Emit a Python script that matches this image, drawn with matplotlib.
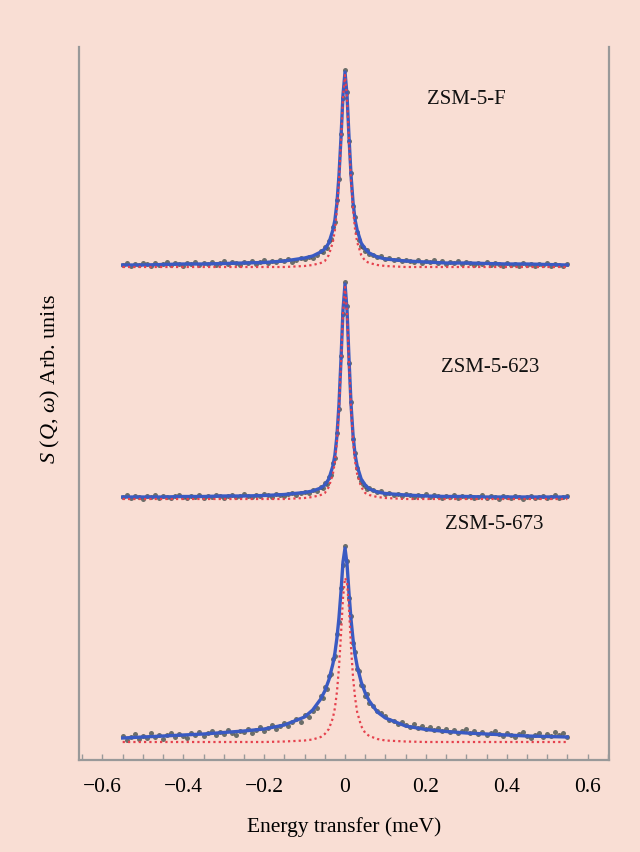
import numpy as np
import matplotlib
matplotlib.use("Agg")
import matplotlib.pyplot as plt
from matplotlib.ticker import MultipleLocator

plt.rcParams['font.family'] = ['Liberation Serif', 'DejaVu Serif']
plt.rcParams['mathtext.fontset'] = 'custom'
plt.rcParams['mathtext.rm'] = 'Liberation Serif'
plt.rcParams['mathtext.it'] = 'Liberation Serif:italic'

BG = '#f9ded4'

# Fit curves: energy grid (meV) and stacked intensities (arb. units, offset per sample)
fit_x = [-0.55, -0.5, -0.45, -0.4, -0.35, -0.3, -0.25, -0.2, -0.15, -0.1, -0.08,
         -0.06, -0.05, -0.04, -0.03, -0.025, -0.02, -0.015, -0.01, -0.005, 0.0,
         0.005, 0.01, 0.015, 0.02, 0.025, 0.03, 0.04, 0.05, 0.06, 0.08, 0.1,
         0.15, 0.2, 0.25, 0.3, 0.35, 0.4, 0.45, 0.5, 0.55]

fit_f = [495, 495, 495.5, 496, 496, 496.5, 497, 497.5, 499, 502, 504,
         508, 511, 517, 530, 540, 557, 584, 622, 665, 688,
         665, 622, 584, 557, 540, 530, 517, 511, 507, 503, 501,
         499, 498, 497, 497, 496.5, 496, 496, 495.5, 495]
elastic_f = [493, 493, 493, 493, 493, 493, 493, 493, 493, 494, 495,
             497, 499, 505, 518, 530, 550, 578, 618, 662, 685,
             662, 618, 578, 550, 530, 518, 505, 499, 497, 495, 494,
             493, 493, 493, 493, 493, 493, 493, 493, 493]

fit_623 = [263, 263, 263, 263.5, 263.5, 264, 264, 264.5, 265.5, 267.5, 269,
           272, 275, 281, 294, 305, 324, 355, 400, 450, 476,
           450, 400, 355, 324, 305, 294, 281, 275, 271, 268, 266.5,
           265, 264, 263.5, 263.5, 263, 263, 263, 263, 263]
elastic_623 = [261, 261, 261, 261, 261, 261, 261, 261, 261, 262, 263,
               265, 267, 273, 286, 298, 318, 350, 396, 447, 473,
               447, 396, 350, 318, 298, 286, 273, 267, 265, 263, 262,
               261, 261, 261, 261, 261, 261, 261, 261, 261]

fit_673 = [22, 23, 24, 25, 26, 27.5, 29, 31, 35, 43, 50,
           61, 69, 80, 96, 107, 122, 142, 168, 198, 212,
           196, 166, 140, 120, 105, 94, 78, 67, 59, 48, 42,
           34, 30.5, 28.5, 27, 26, 25, 24, 23.5, 23]
elastic_673 = [18, 18, 18, 18, 18, 18, 18, 18, 18.5, 19.5, 20.5,
               23, 26, 31, 42, 52, 68, 92, 125, 162, 182,
               178, 150, 112, 82, 62, 48, 34, 27, 24, 21, 19.5,
               18.5, 18, 18, 18, 18, 18, 18, 18, 18]

# Measured points: 0.01 meV steps in the wings, 0.005 meV steps across the peak
data_x = np.concatenate([np.linspace(-0.55, -0.07, 49),
                         np.linspace(-0.06, 0.06, 25),
                         np.linspace(0.07, 0.55, 49)])

data_f = [495, 497, 494, 496, 495, 497, 496, 494, 497, 495,
          496, 498, 495, 497, 496, 494, 497, 496, 498, 495,
          497, 496, 498, 495, 497, 499, 496, 498, 497, 495,
          498, 497, 499, 496, 498, 500, 497, 499, 498, 500,
          499, 501, 498, 500, 502, 501, 503, 502, 505,
          509, 508, 513, 512, 519, 521, 533, 538, 560, 581, 626, 662, 690,
          668, 619, 587, 554, 543, 528, 520, 514, 513, 509, 510, 506,
          505, 503, 504, 501, 502, 500, 501, 499, 500,
          499, 498, 500, 497, 499, 498, 500, 497, 499, 496,
          498, 497, 499, 496, 498, 497, 495, 497, 496, 498,
          495, 497, 496, 494, 497, 495, 496, 494, 497, 495,
          496, 494, 496, 495, 497, 494, 496, 495, 494, 496]

data_623 = [263, 265, 262, 264, 263, 261, 264, 263, 265, 262,
            264, 263, 262, 264, 265, 263, 262, 264, 263, 265,
            262, 264, 263, 265, 264, 262, 264, 265, 263, 264,
            266, 264, 263, 265, 264, 266, 265, 263, 266, 265,
            264, 266, 267, 265, 267, 268, 267, 270, 269,
            273, 272, 277, 276, 283, 285, 297, 302, 327, 351, 404, 446, 478,
            454, 397, 358, 321, 307, 292, 283, 279, 276, 274, 271, 272,
            270, 268, 269, 266, 267, 265, 266, 264, 266,
            265, 263, 265, 264, 266, 263, 265, 264, 262, 264,
            263, 265, 262, 264, 263, 264, 262, 263, 265, 262,
            264, 263, 261, 264, 263, 262, 264, 263, 261, 263,
            264, 262, 263, 264, 262, 263, 265, 262, 263, 264]

data_673 = [24, 20, 23, 26, 21, 24, 22, 27, 23, 25,
            21, 25, 27, 23, 26, 24, 22, 27, 25, 28,
            24, 27, 29, 25, 28, 26, 30, 27, 25, 29,
            28, 31, 27, 30, 33, 29, 32, 35, 31, 34,
            37, 34, 38, 41, 38, 45, 43, 49, 52,
            64, 62, 73, 71, 84, 86, 101, 104, 126, 138, 172, 195, 214,
            199, 162, 144, 117, 108, 91, 89, 75, 74, 64, 66, 57,
            54, 49, 47, 44, 40, 39, 36, 38, 35,
            33, 36, 32, 34, 31, 33, 30, 32, 29, 31,
            28, 30, 27, 29, 31, 27, 29, 26, 28, 25,
            27, 29, 26, 24, 27, 25, 23, 26, 28, 24,
            22, 25, 27, 23, 26, 24, 28, 25, 27, 23]

samples = ['ZSM-5-F', 'ZSM-5-623', 'ZSM-5-673']
label_pos = [(0.30, 661), (0.36, 393), (0.37, 236)]

fig = plt.figure(figsize=(6.4, 8.53), dpi=100, facecolor=BG)
ax = fig.add_axes([79 / 640, 92 / 853, 530 / 640, 713 / 853])
ax.set_facecolor(BG)

for data, fit, elastic in [(data_f, fit_f, elastic_f),
                           (data_623, fit_623, elastic_623),
                           (data_673, fit_673, elastic_673)]:
    ax.plot(data_x, data, 'o', ms=3.6, color='#48524f', alpha=0.8,
            mec='none', zorder=2)
    ax.plot(fit_x, fit, '-', color='#3a5ac2', lw=2.4, zorder=3)
    ax.plot(fit_x, elastic, color='#e5414d', lw=1.6,
            linestyle=(0, (1, 1.4)), zorder=4)

for name, (tx, ty) in zip(samples, label_pos):
    ax.text(tx, ty, name, ha='center', va='center', fontsize=15, color='#111111')

ax.set_xlim(-0.658, 0.653)
ax.set_ylim(0, 713)

for side in ['left', 'right', 'bottom']:
    ax.spines[side].set_color('#999999')
    ax.spines[side].set_linewidth(1.6)
ax.spines['top'].set_visible(False)

ax.set_yticks([])
ax.xaxis.set_minor_locator(MultipleLocator(0.05))
ax.tick_params(axis='x', which='both', direction='in', length=4, width=1,
               color='#999999', labelsize=15.5, pad=12)
ax.set_xticks([-0.6, -0.4, -0.2, 0, 0.2, 0.4, 0.6])
ax.set_xticklabels(['\u22120.6', '\u22120.4', '\u22120.2', '0', '0.2', '0.4', '0.6'])

ax.set_xlabel('Energy transfer (meV)', fontsize=15.5, labelpad=15)
fig.text(50 / 640, 1 - 379 / 853, r'$S$ ($Q$, $\omega$) Arb. units',
         rotation=90, ha='center', va='center', fontsize=16)

fig.savefig('out.png', dpi=100, facecolor=BG)
